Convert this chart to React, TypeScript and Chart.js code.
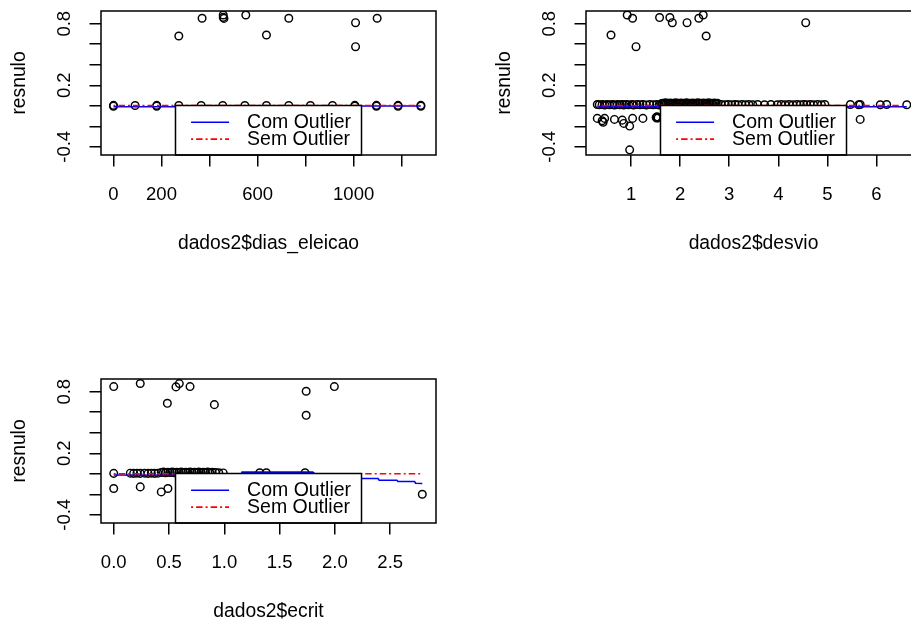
import React, { useEffect, useRef } from "react";
import { Chart, registerables } from "chart.js";

Chart.register(...registerables);

// ---------- shared y axis ----------
const resnuloTicks = [-0.4, -0.2, 0, 0.2, 0.4, 0.6, 0.8];
const resnuloTickLabels = ["-0.4", "", "", "0.2", "", "", "0.8"];
const yTitle = "resnulo";
const legendLabels = ["Com Outlier", "Sem Outlier"];

// ---------- panel 1: dias_eleicao ----------
const diasTicks = [0, 200, 400, 600, 800, 1000, 1200];
const diasTickLabels = ["0", "200", "", "600", "", "1000", ""];
const diasEleicao = [
  0, 0, 90, 180, 180, 272, 365, 455, 547, 637, 730, 820, 912, 1005, 1005, 1095, 1095, 1185, 1185, 1280, 1280,
  272, 369, 457, 457, 460, 551, 637, 730, 1008, 1008, 1098,
];
const resnuloDias = [
  0.004, -0.004, 0.003, 0.004, -0.004, 0.003, 0.003, 0.003, 0.003, 0.003, 0.003, 0.003, 0.003, 0.004, -0.004, 0.004, -0.004, 0.004, -0.004, 0.004, -0.004,
  0.68, 0.853, 0.885, 0.862, 0.852, 0.885, 0.69, 0.853, 0.81, 0.576, 0.853,
];
const comDiasX = [0, 270, 1005, 1280];
const comDiasY = [-0.01, -0.01, -0.002, -0.002];
const semDiasX = [0, 1280];
const semDiasY = [0.002, 0.002];

// ---------- panel 2: desvio ----------
const desvioTicks = [1, 2, 3, 4, 5, 6];
const desvioTickLabels = ["1", "2", "3", "4", "5", "6"];
const desvio = [
  // upper
  0.59, 0.92, 1.03, 1.10, 1.58, 1.79, 1.84, 2.14, 2.38, 2.47, 2.53, 4.56,
  // lower
  0.31, 0.41, 0.43, 0.46, 0.66, 0.82, 0.85, 0.97, 1.03, 1.24, 1.51, 1.52, 1.53, 1.55, 0.97, 5.67,
  // zero row, left
  0.31, 0.35, 0.41, 0.46, 0.51, 0.56, 0.62, 0.66, 0.72, 0.77, 0.82, 0.85, 0.90, 0.95, 1.02, 1.05, 1.12, 1.18, 1.24, 1.31, 1.38, 1.45, 1.52, 1.57,
  // zero row, dense band
  1.62, 1.64, 1.67, 1.70, 1.72, 1.75, 1.78, 1.80, 1.83, 1.86, 1.89, 1.91, 1.94, 1.97, 2.00, 2.02, 2.05, 2.08, 2.11, 2.13, 2.16,
  2.19, 2.22, 2.25, 2.27, 2.30, 2.33, 2.36, 2.38, 2.41, 2.44, 2.47, 2.50, 2.52, 2.55, 2.58, 2.61, 2.64, 2.67, 2.70, 2.73, 2.76,
  // zero row, middle
  2.84, 2.92, 2.98, 3.05, 3.12, 3.18, 3.26, 3.33, 3.40, 3.48, 3.58, 3.72, 3.85, 3.98, 4.06, 4.14, 4.22, 4.30, 4.38, 4.45, 4.52, 4.58, 4.65, 4.72, 4.80, 4.88, 4.95,
  // zero row, right
  5.47, 5.64, 5.67, 6.08, 6.21, 6.62,
];
const resnuloDesvio = [
  // upper
  0.69, 0.885, 0.853, 0.576, 0.86, 0.86, 0.81, 0.81, 0.853, 0.885, 0.68, 0.81,
  // lower
  -0.123, -0.146, -0.16, -0.123, -0.133, -0.14, -0.172, -0.198, -0.123, -0.123, -0.113, -0.12, -0.108, -0.118, -0.43, -0.133,
  // zero row, left
  0.012, 0.01, 0.012, 0.008, 0.012, 0.01, 0.012, 0.008, 0.012, 0.01, 0.012, 0.008, 0.012, 0.01, 0.012, 0.008, 0.012, 0.01, 0.012, 0.008, 0.012, 0.01, 0.012, 0.008,
  // zero row, dense band
  0.02, 0.025, 0.018, 0.028, 0.02, 0.024, 0.018, 0.027, 0.02, 0.025, 0.018, 0.028, 0.02, 0.024, 0.018, 0.027, 0.02, 0.025, 0.018, 0.028, 0.02,
  0.024, 0.018, 0.027, 0.02, 0.025, 0.018, 0.028, 0.02, 0.024, 0.018, 0.027, 0.02, 0.025, 0.018, 0.028, 0.02, 0.024, 0.018, 0.027, 0.02, 0.025,
  // zero row, middle
  0.012, 0.01, 0.012, 0.01, 0.012, 0.01, 0.012, 0.01, 0.012, 0.01, 0.012, 0.01, 0.012, 0.01, 0.012, 0.01, 0.012, 0.01, 0.012, 0.01, 0.012, 0.01, 0.012, 0.01, 0.012, 0.01, 0.012,
  // zero row, right
  0.012, 0.01, 0.012, 0.01, 0.012, 0.01,
];
const comDesvioX = [0.31, 6.62];
const comDesvioY = [-0.01, -0.01];
const semDesvioX = [0.31, 6.62];
const semDesvioY = [0.002, 0.002];

// ---------- panel 3: ecrit ----------
const ecritTicks = [0, 0.5, 1, 1.5, 2, 2.5];
const ecritTickLabels = ["0.0", "0.5", "1.0", "1.5", "2.0", "2.5"];
const ecrit = [
  // upper
  0.0, 0.24, 0.485, 0.563, 0.593, 0.69, 0.91, 1.74, 1.74, 1.995,
  // lower
  0.0, 0.24, 0.43, 0.49, 2.79,
  // zero row
  0.0, 0.15, 0.18, 0.21, 0.24, 0.28, 0.31, 0.34, 0.37, 0.40, 0.43, 0.45, 0.47, 0.49, 0.51, 0.53, 0.55, 0.57, 0.59, 0.61,
  0.63, 0.65, 0.67, 0.69, 0.71, 0.73, 0.75, 0.77, 0.79, 0.81, 0.83, 0.85, 0.87, 0.89, 0.92, 0.95, 0.99, 1.32, 1.38, 1.73,
];
const resnuloEcrit = [
  // upper
  0.85, 0.88, 0.687, 0.847, 0.879, 0.85, 0.674, 0.805, 0.57, 0.85,
  // lower
  -0.144, -0.128, -0.177, -0.144, -0.2,
  // zero row
  0.004, 0.006, 0.004, 0.006, 0.004, 0.006, 0.004, 0.006, 0.004, 0.006, 0.012, 0.016, 0.01, 0.015, 0.012, 0.016, 0.01, 0.015, 0.012, 0.016,
  0.01, 0.015, 0.012, 0.016, 0.01, 0.015, 0.012, 0.016, 0.01, 0.015, 0.012, 0.016, 0.01, 0.015, 0.012, 0.01, 0.008, 0.01, 0.01, 0.01,
];
const comEcritX = [0, 0.5, 0.55, 1.15, 1.16, 1.8, 1.85, 2.24, 2.39, 2.4, 2.56, 2.57, 2.72, 2.73, 2.79];
const comEcritY = [-0.012, -0.014, -0.014, -0.014, 0.016, 0.016, -0.03, -0.046, -0.046, -0.063, -0.063, -0.075, -0.075, -0.092, -0.095];
const semEcritX = [0, 2.79];
const semEcritY = [0.0, 0.0];

// ---------- layout ----------
const CW = 485;
const CH = 368;
const AREA = { left: 101, top: 11, right: 436, bottom: 155 };
const FONT_FAMILY = '"Liberation Sans", Arial, sans-serif';
const TICK_FONT = `18.5px ${FONT_FAMILY}`;
const TITLE_FONT = `19.3px ${FONT_FAMILY}`;
const LEG_FONT = `19.5px ${FONT_FAMILY}`;

type PanelSpec = {
  left: number;
  top: number;
  xMin: number;
  xMax: number;
  xTicks: number[];
  xTickLabels: string[];
  xTitle: string;
  xs: number[];
  ys: number[];
  comX: number[];
  comY: number[];
  semX: number[];
  semY: number[];
};

const panels: PanelSpec[] = [
  {
    left: 0, top: 0, xMin: -52, xMax: 1343,
    xTicks: diasTicks, xTickLabels: diasTickLabels, xTitle: "dados2$dias_eleicao",
    xs: diasEleicao, ys: resnuloDias, comX: comDiasX, comY: comDiasY, semX: semDiasX, semY: semDiasY,
  },
  {
    left: 485, top: 0, xMin: 0.08, xMax: 6.91,
    xTicks: desvioTicks, xTickLabels: desvioTickLabels, xTitle: "dados2$desvio",
    xs: desvio, ys: resnuloDesvio, comX: comDesvioX, comY: comDesvioY, semX: semDesvioX, semY: semDesvioY,
  },
  {
    left: 0, top: 368, xMin: -0.115, xMax: 2.914,
    xTicks: ecritTicks, xTickLabels: ecritTickLabels, xTitle: "dados2$ecrit",
    xs: ecrit, ys: resnuloEcrit, comX: comEcritX, comY: comEcritY, semX: semEcritX, semY: semEcritY,
  },
];

const toXY = (xs: number[], ys: number[]) => xs.map((x, i) => ({ x, y: ys[i] }));

function Panel({ spec }: { spec: PanelSpec }) {
  const ref = useRef<HTMLCanvasElement | null>(null);
  useEffect(() => {
    const canvas = ref.current;
    if (!canvas) return;

    const rPlotPlugin = {
      id: "rPlot",
      afterDatasetsDraw(chart: any) {
        const { ctx, chartArea: a, scales } = chart;
        const sx = scales.x;
        const sy = scales.y;
        ctx.save();
        // legend (bottom, inside the plot region)
        const lineDs = chart.data.datasets.filter((d: any) => d.showLine);
        ctx.font = LEG_FONT;
        const tw = Math.max(...lineDs.map((d: any) => ctx.measureText(d.label).width));
        const bw = 72 + tw + 10;
        const bh = 49.5;
        const bx = (a.left + a.right) / 2 - bw / 2;
        const by = a.bottom - bh;
        ctx.fillStyle = "#ffffff";
        ctx.fillRect(bx, by, bw, bh);
        ctx.strokeStyle = "#000";
        ctx.lineWidth = 1.5;
        ctx.strokeRect(bx, by, bw, bh);
        lineDs.forEach((d: any, i: number) => {
          const ly = by + 16.8 + i * 16.8;
          ctx.beginPath();
          ctx.setLineDash(d.borderDash || []);
          ctx.strokeStyle = d.borderColor;
          ctx.lineWidth = d.borderWidth;
          ctx.moveTo(bx + 15.6, ly);
          ctx.lineTo(bx + 53.6, ly);
          ctx.stroke();
          ctx.setLineDash([]);
          ctx.fillStyle = "#000";
          ctx.textAlign = "left";
          ctx.textBaseline = "middle";
          ctx.fillText(d.label, bx + 71.6, ly + 0.5);
        });
        // plot box
        ctx.strokeStyle = "#000";
        ctx.lineWidth = 1.5;
        ctx.strokeRect(a.left, a.top, a.right - a.left, a.bottom - a.top);
        // x tick labels
        ctx.fillStyle = "#000";
        ctx.font = TICK_FONT;
        ctx.textAlign = "center";
        ctx.textBaseline = "alphabetic";
        sx.ticks.forEach((t: any) => {
          if (t.label) ctx.fillText(String(t.label), sx.getPixelForValue(t.value), a.bottom + 45);
        });
        // y tick labels, parallel to the axis
        sy.ticks.forEach((t: any) => {
          if (!t.label) return;
          const y = sy.getPixelForValue(t.value);
          ctx.save();
          ctx.translate(a.left - 31, y);
          ctx.rotate(-Math.PI / 2);
          ctx.fillText(String(t.label), 0, 0);
          ctx.restore();
        });
        // axis titles
        ctx.font = TITLE_FONT;
        ctx.fillText(sx.options.title.text, (a.left + a.right) / 2, a.bottom + 94);
        ctx.save();
        ctx.translate(a.left - 76, (a.top + a.bottom) / 2);
        ctx.rotate(-Math.PI / 2);
        ctx.fillText(sy.options.title.text, 0, 0);
        ctx.restore();
        ctx.restore();
      },
    };

    const gridOpts = {
      display: true,
      drawOnChartArea: false,
      drawTicks: true,
      tickLength: 11.5,
      color: "#000",
      lineWidth: 1.5,
    };

    const chart = new Chart(canvas, {
      type: "scatter",
      data: {
        datasets: [
          {
            label: legendLabels[0],
            data: toXY(spec.comX, spec.comY),
            showLine: true,
            borderColor: "#0000ff",
            borderWidth: 1.6,
            pointRadius: 0,
            fill: false,
            order: 1,
          },
          {
            label: legendLabels[1],
            data: toXY(spec.semX, spec.semY),
            showLine: true,
            borderColor: "#ff0000",
            borderWidth: 1.6,
            borderDash: [2, 3, 6.5, 3],
            pointRadius: 0,
            fill: false,
            order: 0,
          },
          {
            label: yTitle,
            data: toXY(spec.xs, spec.ys),
            showLine: false,
            pointStyle: "circle",
            pointRadius: 3.8,
            pointBorderWidth: 1.45,
            borderColor: "#000",
            backgroundColor: "rgba(0,0,0,0)",
            pointBackgroundColor: "rgba(0,0,0,0)",
            pointBorderColor: "#000",
            order: 2,
          },
        ] as any,
      },
      options: {
        animation: false,
        responsive: false,
        maintainAspectRatio: false,
        events: [],
        layout: {
          padding: { left: 0, top: AREA.top, right: CW - AREA.right, bottom: 0 },
        },
        plugins: { legend: { display: false }, tooltip: { enabled: false }, title: { display: false } },
        scales: {
          x: {
            type: "linear",
            position: "bottom",
            min: spec.xMin,
            max: spec.xMax,
            afterBuildTicks: (s: any) => {
              s.ticks = spec.xTicks.map((v) => ({ value: v }));
            },
            afterFit: (s: any) => {
              s.height = CH - AREA.bottom;
            },
            ticks: {
              display: false,
              callback: (_v: any, i: number) => spec.xTickLabels[i],
            },
            title: { display: false, text: spec.xTitle },
            grid: gridOpts,
            border: { display: false },
          },
          y: {
            type: "linear",
            position: "left",
            min: -0.48,
            max: 0.924,
            afterBuildTicks: (s: any) => {
              s.ticks = resnuloTicks.map((v) => ({ value: v }));
            },
            afterFit: (s: any) => {
              s.width = AREA.left;
            },
            ticks: {
              display: false,
              callback: (_v: any, i: number) => resnuloTickLabels[i],
            },
            title: { display: false, text: yTitle },
            grid: gridOpts,
            border: { display: false },
          },
        },
      } as any,
      plugins: [rPlotPlugin],
    });
    return () => chart.destroy();
  }, [spec]);

  return (
    <canvas
      ref={ref}
      width={CW}
      height={CH}
      style={{ position: "absolute", left: spec.left, top: spec.top, width: CW, height: CH }}
    />
  );
}

export default function App() {
  return (
    <div
      style={{
        position: "absolute",
        left: 0,
        top: 0,
        width: 911,
        height: 623,
        overflow: "hidden",
        background: "#ffffff",
      }}
    >
      {panels.map((p, i) => (
        <Panel key={i} spec={p} />
      ))}
    </div>
  );
}
